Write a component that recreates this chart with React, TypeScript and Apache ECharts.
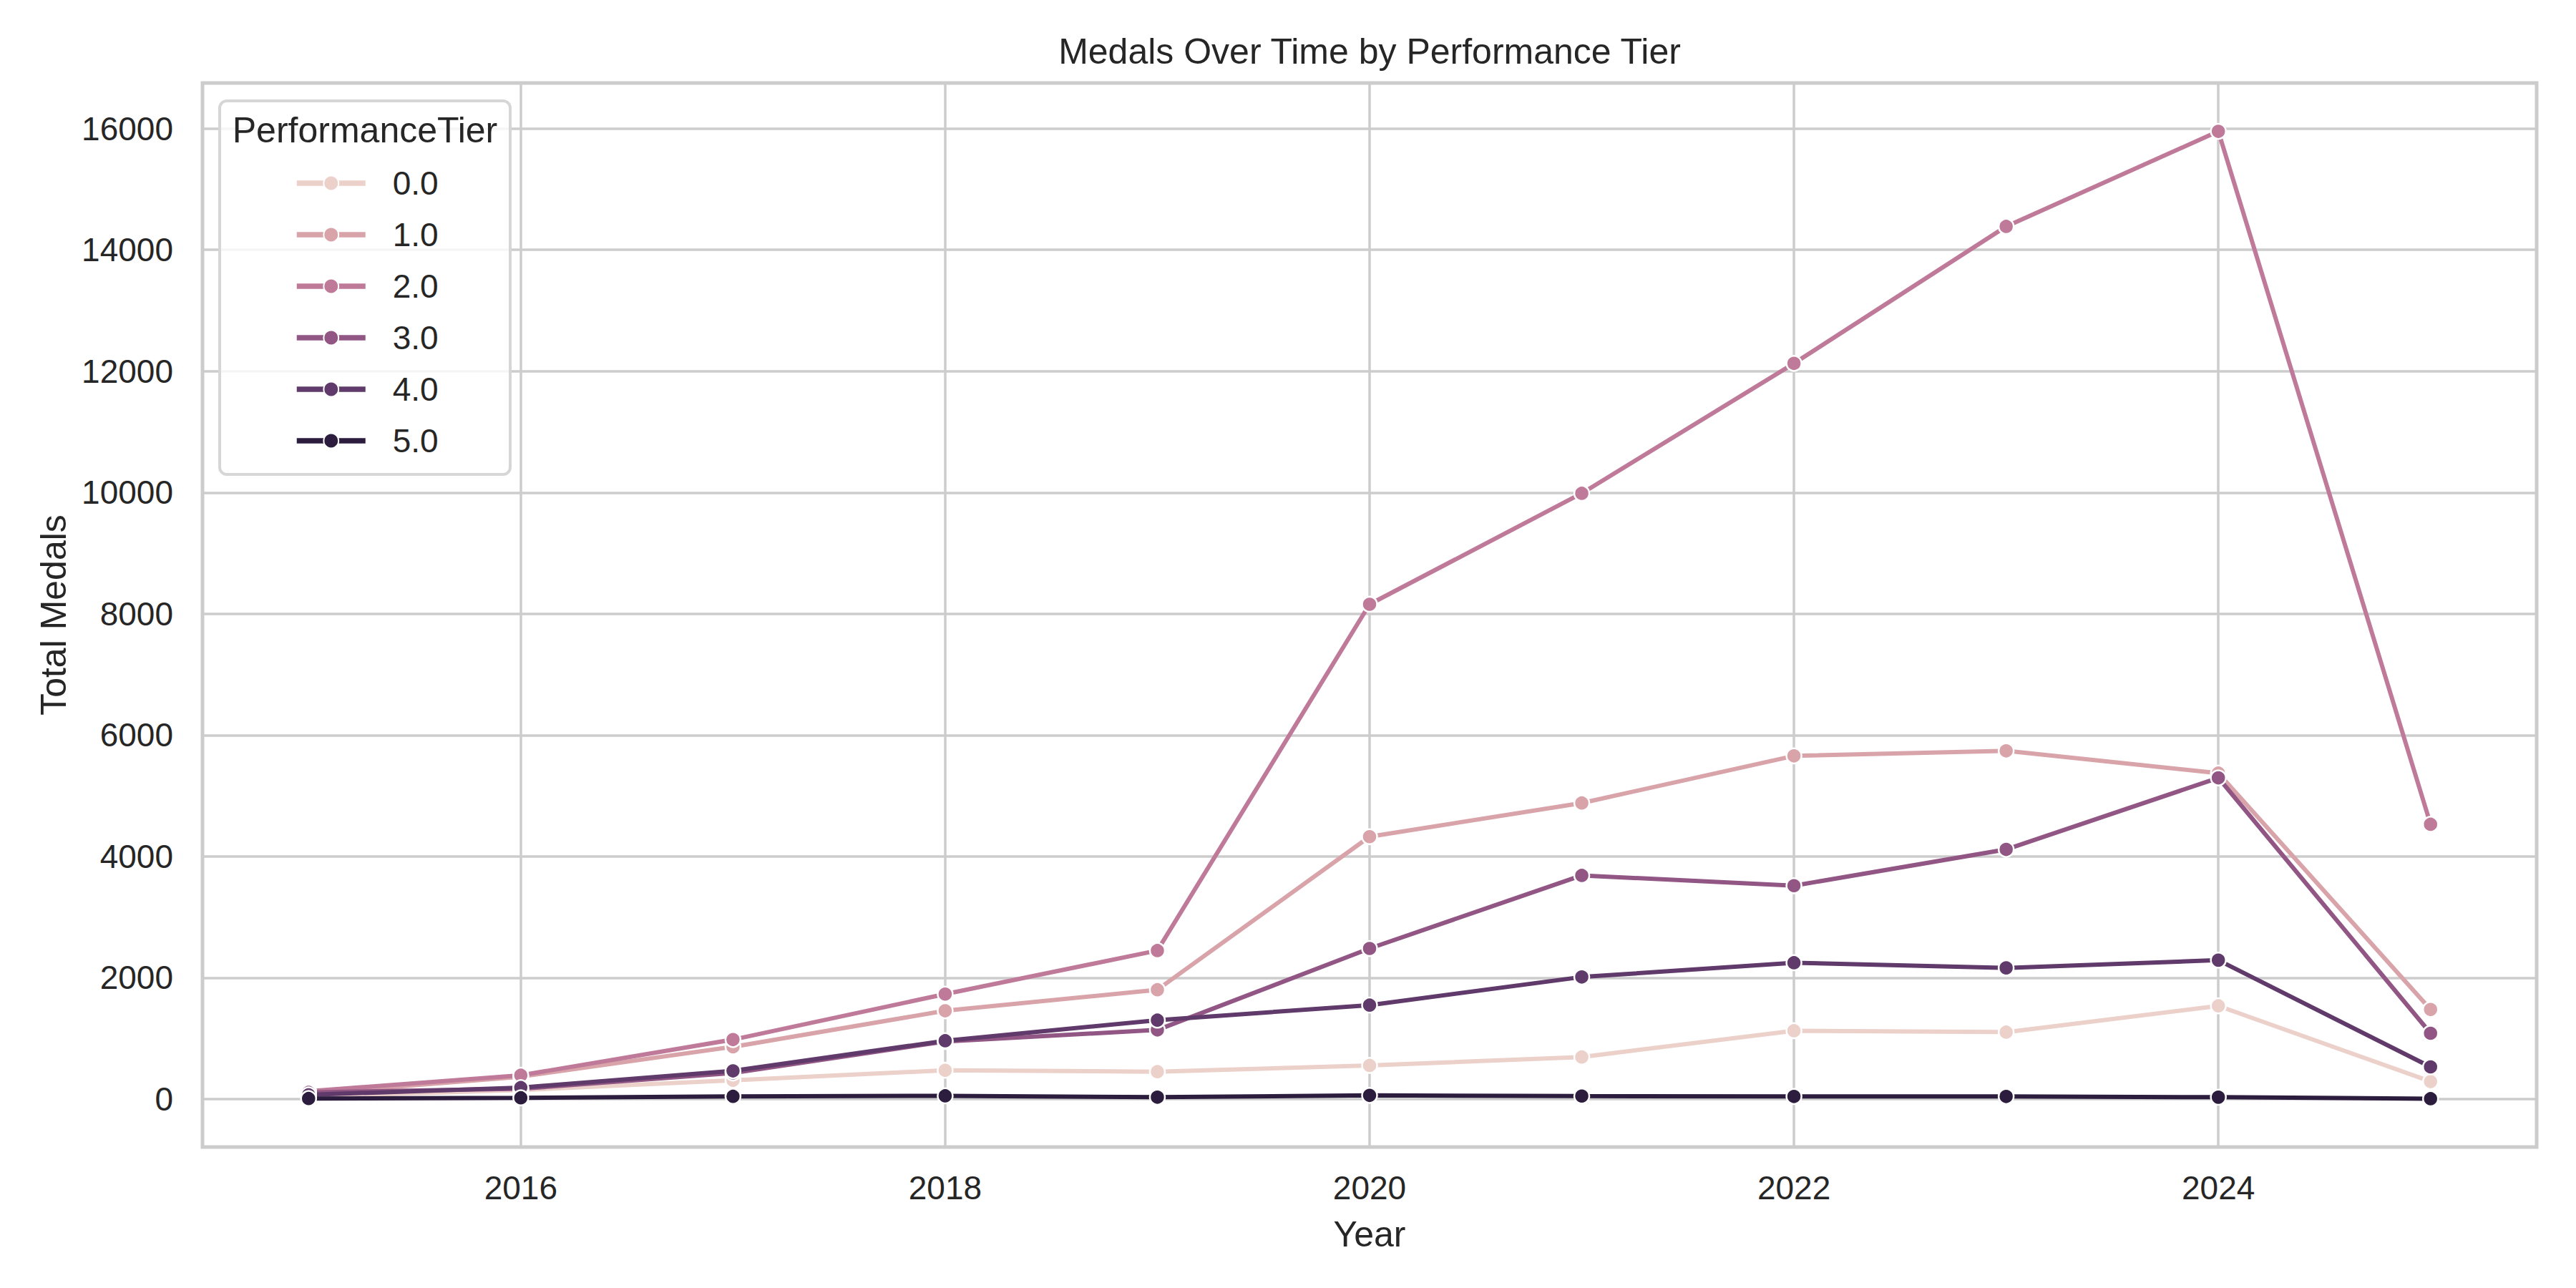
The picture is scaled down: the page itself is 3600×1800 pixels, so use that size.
import React, { useEffect, useRef } from "react";
import * as echarts from "echarts";

// values
const years = [2015, 2016, 2017, 2018, 2019, 2020, 2021, 2022, 2023, 2024, 2025];
const tierNames = ["0.0", "1.0", "2.0", "3.0", "4.0", "5.0"];
const tier0 = [40, 150, 310, 475, 452, 555, 694, 1127, 1104, 1537, 290];
const tier1 = [90, 370, 862, 1456, 1803, 4326, 4881, 5658, 5741, 5374, 1477];
const tier2 = [130, 393, 981, 1731, 2449, 8157, 9986, 12128, 14386, 15953, 4531];
const tier3 = [110, 170, 430, 950, 1140, 2483, 3687, 3518, 4116, 5296, 1085];
const tier4 = [70, 190, 465, 962, 1301, 1549, 2013, 2248, 2163, 2290, 531];
const tier5 = [10, 22, 45, 54, 32, 61, 50, 43, 43, 31, 7];
const tierColors = ["#ecd0ca", "#d9a3aa", "#bf7a99", "#925685", "#5f3a6a", "#2c1d3f"];
const xTicks = [2016, 2018, 2020, 2022, 2024];
const yTicks = [0, 2000, 4000, 6000, 8000, 10000, 12000, 14000, 16000];

const FONT = "'Liberation Sans', Arial, sans-serif";
const TEXT = "#262626";
const GRID = "#cccccc";

export default function App() {
    const chartRef = useRef<HTMLDivElement>(null);

    useEffect(() => {
        const chart = echarts.init(chartRef.current!, null, { renderer: "svg" });

        const tiers = [tier0, tier1, tier2, tier3, tier4, tier5];
        const all = tiers.flat();
        const lo = Math.min(...all);
        const hi = Math.max(...all);
        const pad = (hi - lo) * 0.05;

        const option: any = {
            animation: false,
            backgroundColor: "#ffffff",
            textStyle: { fontFamily: FONT, color: TEXT },
            title: {
                text: "Medals Over Time by Performance Tier",
                left: 1914,
                top: 47,
                textAlign: "center",
                padding: 0,
                textStyle: { fontFamily: FONT, fontSize: 50, fontWeight: "normal", color: TEXT },
            },
            grid: {
                left: 283,
                right: 55,
                top: 116,
                bottom: 197,
                show: true,
                borderColor: GRID,
                borderWidth: 5,
                backgroundColor: "transparent",
            },
            xAxis: {
                type: "value",
                min: years[0] - 0.5,
                max: years[years.length - 1] + 0.5,
                name: "Year",
                nameLocation: "middle",
                nameGap: 97,
                nameTextStyle: { fontFamily: FONT, fontSize: 50, color: TEXT },
                axisLine: { show: false },
                axisTick: { show: false, customValues: xTicks },
                axisLabel: {
                    customValues: xTicks,
                    margin: 34,
                    fontFamily: FONT,
                    fontSize: 46,
                    color: TEXT,
                    formatter: (v: number) => String(v),
                },
                splitLine: { show: true, lineStyle: { color: GRID, width: 3.5 } },
            },
            yAxis: {
                type: "value",
                min: lo - pad,
                max: hi + pad,
                name: "Total Medals",
                nameLocation: "middle",
                nameGap: 183,
                nameTextStyle: { fontFamily: FONT, fontSize: 50, color: TEXT },
                axisLine: { show: false },
                axisTick: { show: false, customValues: yTicks },
                axisLabel: {
                    customValues: yTicks,
                    margin: 41,
                    fontFamily: FONT,
                    fontSize: 46,
                    color: TEXT,
                    formatter: (v: number) => String(v),
                },
                splitLine: { show: true, lineStyle: { color: GRID, width: 3.5 } },
            },
            legend: {
                orient: "vertical",
                left: 411,
                top: 233,
                padding: 0,
                itemWidth: 96,
                itemHeight: 26,
                itemGap: 26,
                z: 12,
                data: tierNames,
                lineStyle: { width: 7.5 },
                textStyle: {
                    fontFamily: FONT,
                    fontSize: 46,
                    lineHeight: 46,
                    color: TEXT,
                    padding: [0, 0, 0, 33],
                },
            },
            graphic: [
                {
                    type: "rect",
                    z: 10,
                    shape: { x: 307, y: 141, width: 406, height: 522, r: 10 },
                    style: { fill: "rgba(255,255,255,0.8)", stroke: "#d6d6d6", lineWidth: 4 },
                },
                {
                    type: "text",
                    z: 11,
                    x: 510,
                    y: 182,
                    style: {
                        text: "PerformanceTier",
                        fontFamily: FONT,
                        fontSize: 50,
                        fill: TEXT,
                        align: "center",
                        verticalAlign: "middle",
                    },
                },
            ],
            series: tiers.map((vals, i) => ({
                name: tierNames[i],
                type: "line",
                data: years.map((y, j) => [y, vals[j]]),
                symbol: "circle",
                symbolSize: 21,
                color: tierColors[i],
                lineStyle: { color: tierColors[i], width: 6 },
                itemStyle: { color: tierColors[i], borderColor: "#ffffff", borderWidth: 2.5 },
                emphasis: { disabled: true },
            })),
        };

        chart.setOption(option);

        return () => {
            chart.dispose();
        };
    }, []);

    return (
        <div
            ref={chartRef}
            style={{ position: "fixed", left: 0, top: 0, width: "3600px", height: "1800px" }}
        />
    );
}
